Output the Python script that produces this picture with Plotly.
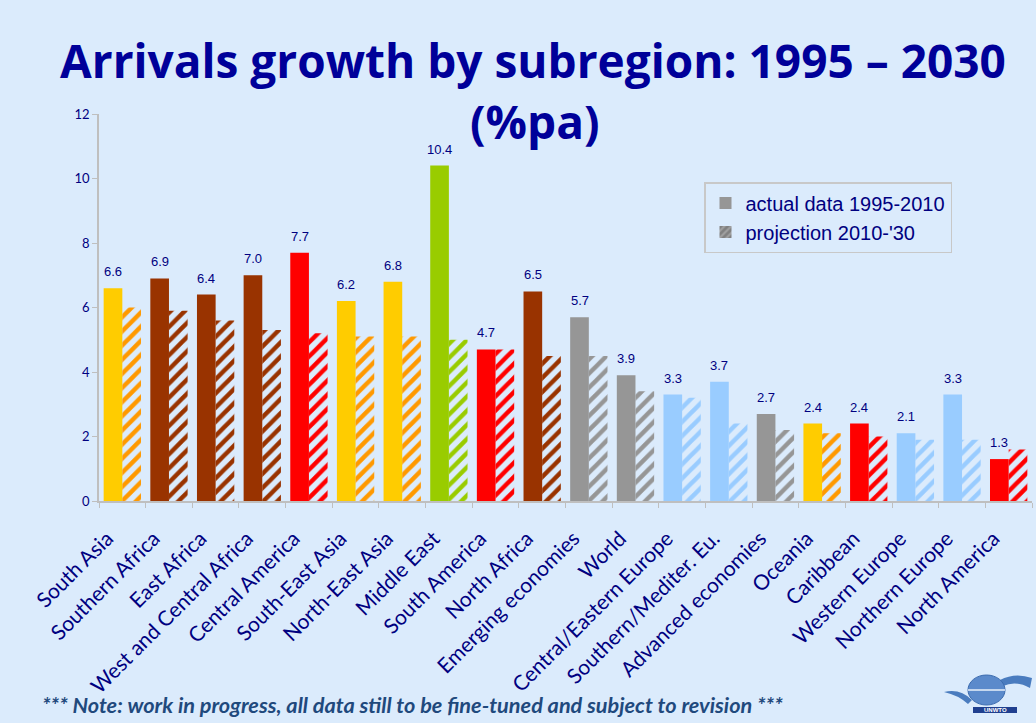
import plotly.graph_objects as go

# ---- data -------------------------------------------------------------
subregions = [
    "South Asia", "Southern Africa", "East Africa", "West and Central Africa",
    "Central America", "South-East Asia", "North-East Asia", "Middle East",
    "South America", "North Africa", "Emerging economies", "World",
    "Central/Eastern Europe", "Southern/Mediter. Eu.", "Advanced economies",
    "Oceania", "Caribbean", "Western Europe", "Northern Europe", "North America",
]
actual_1995_2010 = [6.6, 6.9, 6.4, 7.0, 7.7, 6.2, 6.8, 10.4, 4.7, 6.5,
                    5.7, 3.9, 3.3, 3.7, 2.7, 2.4, 2.4, 2.1, 3.3, 1.3]
projection_2010_2030 = [6.0, 5.9, 5.6, 5.3, 5.2, 5.1, 5.1, 5.0, 4.7, 4.5,
                        4.5, 3.4, 3.2, 2.4, 2.2, 2.1, 2.0, 1.9, 1.9, 1.6]
# colour family of each subregion (region of the world it belongs to)
families = ["asia", "africa", "africa", "africa", "americas", "asia", "asia",
            "mideast", "americas", "africa", "aggregate", "aggregate",
            "europe", "europe", "aggregate", "asia", "americas", "europe",
            "europe", "americas"]

# solid colour, hatch background, hatch stripe for each family
palette = {
    "asia":      ("#FFCC00", "#FF9900", "#FFFF00"),
    "africa":    ("#993300", "#993300", "#FF9900"),
    "americas":  ("#FF0000", "#FF0000", "#FFCC00"),
    "mideast":   ("#99CC00", "#99CC00", "#FFCC00"),
    "aggregate": ("#969696", "#969696", "#C8C8C8"),
    "europe":    ("#99CCFF", "#99CCFF", "#CCFFFF"),
}

solid = [palette[f][0] for f in families]
hatch_bg = [palette[f][1] for f in families]
hatch_fg = [palette[f][2] for f in families]

NAVY = "#000080"
BG = "#DBEBFC"
AXIS = "#BFBFBF"

# ---- page geometry (px) ----------------------------------------------
W, H = 1036, 723
L, R, T, B = 99, 4, 114, 222
PW, PH = W - L - R, H - T - B


def px_x(x):
    return (x - L) / PW


def px_y(y):
    return (H - B - y) / PH


fig = go.Figure()

fig.add_trace(go.Bar(
    x=subregions, y=actual_1995_2010, name="actual data 1995-2010",
    marker=dict(color=solid, line=dict(width=0)),
    showlegend=False,
))
fig.add_trace(go.Bar(
    x=subregions, y=projection_2010_2030, name="projection 2010-'30",
    marker=dict(
        color=hatch_bg, line=dict(width=0),
        pattern=dict(shape="/", bgcolor=hatch_bg, fgcolor=hatch_fg,
                     size=10, solidity=0.45, fillmode="replace"),
    ),
    showlegend=False,
))

# legend entries in neutral grey, kept on an unused axis pair
fig.add_trace(go.Bar(
    x=[None], y=[None], name="actual data 1995-2010",
    marker=dict(color="#969696", line=dict(width=0)),
    xaxis="x2", yaxis="y2",
))
fig.add_trace(go.Bar(
    x=[None], y=[None], name="projection 2010-'30",
    marker=dict(color="#808080", line=dict(width=0),
                pattern=dict(shape="/", bgcolor="#808080", fgcolor="#C0C0C0",
                             size=6, solidity=0.45)),
    xaxis="x2", yaxis="y2",
))

# value labels above the 1995-2010 bars
annotations = []
for i, v in enumerate(actual_1995_2010):
    annotations.append(dict(
        x=i - 0.2, y=v, xref="x", yref="y", text=f"{v:.1f}",
        showarrow=False, yanchor="bottom", yshift=7,
        font=dict(family="Liberation Sans", size=13, color=NAVY),
    ))

# title (two lines)
annotations.append(dict(
    x=px_x(533), y=px_y(60), xref="paper", yref="paper",
    text="<b>Arrivals growth by subregion: 1995 – 2030</b>",
    showarrow=False, xanchor="center", yanchor="middle",
    font=dict(family="Open Sans", size=46, color="#000099"),
))
annotations.append(dict(
    x=px_x(535), y=px_y(121), xref="paper", yref="paper",
    text="<b>(%pa)</b>",
    showarrow=False, xanchor="center", yanchor="middle",
    font=dict(family="Open Sans", size=46, color="#000099"),
))

# footnote
annotations.append(dict(
    x=px_x(40), y=px_y(705), xref="paper", yref="paper",
    text="<b><i>*** Note: work in progress, all data still to be fine-tuned "
         "and subject to revision ***</i></b>",
    showarrow=False, xanchor="left", yanchor="middle",
    font=dict(family="Lato", size=21.7, color="#1F497D"),
))

# organisation emblem in the bottom-right corner
shapes = [
    dict(type="path", xref="paper", yref="paper",
         path=f"M {px_x(944)} {px_y(692)} Q {px_x(960)} {px_y(688)} {px_x(972)} {px_y(700)} "
              f"L {px_x(968)} {px_y(704)} Q {px_x(958)} {px_y(695)} {px_x(944)} {px_y(692)} Z",
         fillcolor="#4A7CBF", line=dict(width=0)),
    dict(type="path", xref="paper", yref="paper",
         path=f"M {px_x(1000)} {px_y(680)} Q {px_x(1015)} {px_y(672)} {px_x(1032)} {px_y(678)} "
              f"L {px_x(1030)} {px_y(688)} Q {px_x(1016)} {px_y(680)} {px_x(1003)} {px_y(686)} Z",
         fillcolor="#4A7CBF", line=dict(width=0)),
    dict(type="circle", xref="paper", yref="paper",
         x0=px_x(968), x1=px_x(1005), y0=px_y(705), y1=px_y(675),
         fillcolor="#5B8ACB", line=dict(color="#3A6AAE", width=1)),
    dict(type="line", xref="paper", yref="paper",
         x0=px_x(968), x1=px_x(1005), y0=px_y(690), y1=px_y(690),
         line=dict(color="#E8F0FA", width=1.5)),
    dict(type="rect", xref="paper", yref="paper",
         x0=px_x(973), x1=px_x(1017), y0=px_y(713), y1=px_y(707),
         fillcolor="#1F3F8F", line=dict(width=0)),
]
annotations.append(dict(
    x=px_x(995), y=px_y(710), xref="paper", yref="paper", text="<b>UNWTO</b>",
    showarrow=False, xanchor="center", yanchor="middle",
    font=dict(family="Liberation Sans", size=6, color="white"),
))

# category labels sit a little further along their slant from the tick
tick_text = [s + "\u00a0" * 4 for s in subregions]

fig.update_layout(
    width=W, height=H,
    margin=dict(l=L, r=R, t=T, b=B, pad=0),
    paper_bgcolor=BG, plot_bgcolor=BG,
    barmode="group", bargap=0.2, bargroupgap=0,
    annotations=annotations, shapes=shapes,
    legend=dict(
        x=px_x(704), y=px_y(182), xanchor="left", yanchor="top",
        bgcolor="rgba(0,0,0,0)", bordercolor="#C8C8C8", borderwidth=1.5,
        font=dict(family="Liberation Sans", size=20, color=NAVY),
        itemwidth=30, tracegroupgap=0,
    ),
    xaxis=dict(
        type="category", tickson="boundaries", ticks="outside", ticklen=5,
        tickcolor=AXIS, showline=True, linecolor=AXIS, linewidth=1.5,
        tickangle=-45, showgrid=False, zeroline=False, ticklabelstandoff=0,
        tickmode="array", tickvals=subregions, ticktext=tick_text,
        tickfont=dict(family="Lato", size=21, color=NAVY),
    ),
    yaxis=dict(
        range=[0, 12], dtick=2, ticks="outside", ticklen=5, tickcolor=AXIS,
        showline=True, linecolor=AXIS, linewidth=1.5, showgrid=False,
        zeroline=False,
        tickfont=dict(family="Lato", size=13, color=NAVY),
    ),
    xaxis2=dict(overlaying="x", visible=False, range=[0, 1]),
    yaxis2=dict(overlaying="y", visible=False, range=[0, 1]),
    font=dict(family="Liberation Sans", color=NAVY),
)

fig.write_html("out.html")
